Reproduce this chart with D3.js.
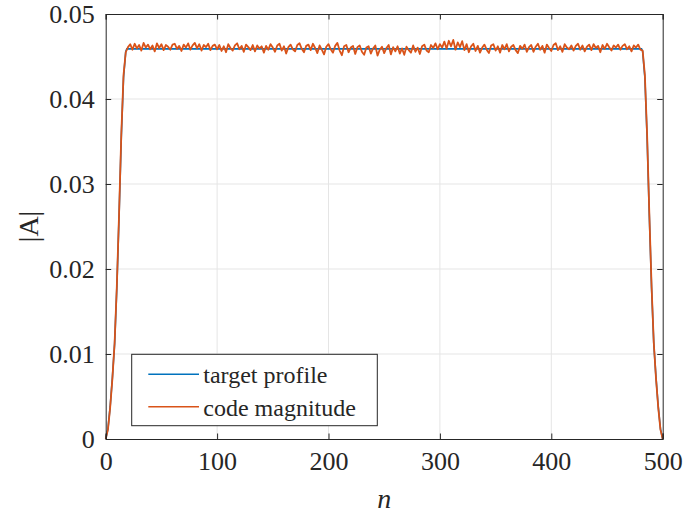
<!DOCTYPE html>
<html>
<head>
<meta charset="utf-8">
<script src="https://cdn.jsdelivr.net/npm/d3@7"></script>
<style>
  body { margin: 0; background: #fff; }
  text { font-family: "Liberation Serif", "Times New Roman", serif; fill: #262626; }
  .grid line { stroke: #e5e5e5; stroke-width: 1; }
</style>
</head>
<body>
<div id="chart"></div>
<script>
// target profile: trapezoid with smooth ramps (knots)
var targetN   = [0, 2, 4, 6, 8, 10, 12, 14, 16, 18, 19, 481, 482, 484, 486, 488, 490, 492, 494, 496, 498, 500];
var targetMag = [0, .0012, .0038, .0072, .0112, .0178, .0262, .0355, .0425, .0456, .0459,
                 .0459, .0456, .0425, .0355, .0262, .0178, .0112, .0072, .0038, .0012, 0];

// code magnitude, sampled every 2nd n (n = 0, 2, 4, ... 500)
var codeRise = [0, .0011, .0037, .0071, .0113, .0180, .0265, .0358, .0428, .0455];
var codePlateau = [
  .0461, .04645, .0458, .0465, .04595, .04635, .0457, .0466, .04605, .0464, .04585, .0463, .0456, .04655, .046, .04645, .04575, .04635, .04615, .0458, .0464,
  .0465, .0459, .04625, .04565, .0464, .04605, .04655, .0458, .0463, .0466, .04595, .04645, .0457, .04635, .0461, .0465, .04575, .04625, .0464, .04585,
  .04635, .04565, .0462, .0455, .04645, .046, .0457, .0463, .04655, .04585, .04625, .04555, .0464, .0461, .04575, .04635, .0456, .0463, .04595, .0462,
  .04545, .04625, .0458, .04645, .04605, .04555, .0463, .0465, .0457, .0462, .04535, .0461, .0464, .04585, .0456, .04635, .04655, .0459, .0455, .04625,
  .0464, .04575, .0465, .046, .0454, .0463, .0458, .04525, .04615, .04645, .04585, .04545, .04625, .0466, .0457, .04515, .0462, .04635, .0455, .04605,
  .04625, .0453, .0461, .0463, .04555, .0452, .04605, .0462, .04535, .04595, .0463, .0451, .0458, .04615, .0454, .046, .04635, .04525, .0461, .0456,
  .0462, .04535, .04595, .0452, .04615, .04575, .04545, .0463, .04555, .04605, .0453, .0462, .0464, .0457, .0455, .04635, .046, .04655, .04585, .04645,
  .04605, .04675, .0459, .04685, .0462, .04695, .0458, .04665, .0461, .0468, .04575, .04645, .0455, .0462, .0465, .04565, .04625, .04545, .04605, .0464,
  .0458, .0454, .0463, .04645, .0457, .0462, .04545, .04635, .04585, .04645, .0456, .04615, .04635, .04575, .0454, .04625, .0459, .0464, .04555, .0461,
  .04635, .04555, .04615, .0465, .0458, .04625, .04545, .0464, .046, .04565, .04635, .04655, .04575, .0462, .04555, .04645, .04605, .04585, .0463, .0457,
  .04625, .0465, .0458, .0463, .0456, .04615, .0464, .04575, .04645, .046, .04625, .0455, .04635, .0459, .0465, .0461, .0457, .0463, .04605, .0464,
  .0458, .04625, .04645, .04585, .0462, .0456, .0463, .04605, .0464, .0458
];
var codeFall = [.0457, .0428, .0358, .0265, .0180, .0113, .0071, .0037, .0011, 0];

var xTicks = [0, 100, 200, 300, 400, 500];
var yTicks = [0, 0.01, 0.02, 0.03, 0.04, 0.05];
var yTickLabels = ["0", "0.01", "0.02", "0.03", "0.04", "0.05"];
var legendLabels = ["target profile", "code magnitude"];

function init(){

    var w = 684;
    var h = 515;
    var left = 105.7, right = 662.7, top = 14, bottom = 439;
    var tickLen = 5.5;
    var axisColor = "#262626";
    var colors = ["#0072BD", "#D95319"];

    var codeMag = codeRise.concat(codePlateau, codeFall);
    var codeData = codeMag.map(function(v, i){ return {n: i * 2, v: v}; });
    var targetData = targetN.map(function(n, i){ return {n: n, v: targetMag[i]}; });

    var xScale = d3.scaleLinear().domain([0, 500]).range([left, right]);
    var yScale = d3.scaleLinear().domain([0, 0.05]).range([bottom, top]);

    var svg = d3.select("#chart")
            .append("svg")
            .attr("width", w)
            .attr("height", h);

    // grid
    var grid = svg.append("g").attr("class", "grid");
    grid.selectAll(".gx")
        .data(xTicks.slice(1, -1))
        .enter().append("line")
        .attr("x1", function(d){ return xScale(d); })
        .attr("x2", function(d){ return xScale(d); })
        .attr("y1", top).attr("y2", bottom);
    grid.selectAll(".gy")
        .data(yTicks.slice(1, -1))
        .enter().append("line")
        .attr("y1", function(d){ return yScale(d); })
        .attr("y2", function(d){ return yScale(d); })
        .attr("x1", left).attr("x2", right);

    var line = d3.line()
            .x(function(d){ return xScale(d.n); })
            .y(function(d){ return yScale(d.v); });

    svg.append("path")
        .datum(targetData)
        .attr("fill", "none")
        .attr("stroke", colors[0])
        .attr("stroke-width", 1.6)
        .attr("d", line);

    svg.append("path")
        .datum(codeData)
        .attr("fill", "none")
        .attr("stroke", colors[1])
        .attr("stroke-width", 1.8)
        .attr("stroke-linejoin", "round")
        .attr("d", line);

    // axes (ticks inward, on all four sides)
    var xAxis = d3.axisBottom(xScale).tickValues(xTicks).tickSize(-tickLen).tickPadding(13)
            .tickFormat(d3.format("d"));
    var yAxis = d3.axisLeft(yScale).tickValues(yTicks).tickSize(-tickLen).tickPadding(11)
            .tickFormat(function(d, i){ return yTickLabels[i]; });
    var xTop = d3.axisTop(xScale).tickValues(xTicks).tickSize(-tickLen).tickFormat("");
    var yRight = d3.axisRight(yScale).tickValues(yTicks).tickSize(-tickLen).tickFormat("");

    var gx = svg.append("g").attr("transform", "translate(0," + bottom + ")").call(xAxis);
    var gy = svg.append("g").attr("transform", "translate(" + left + ",0)").call(yAxis);
    var gt = svg.append("g").attr("transform", "translate(0," + top + ")").call(xTop);
    var gr = svg.append("g").attr("transform", "translate(" + right + ",0)").call(yRight);

    [gx, gy, gt, gr].forEach(function(g){
        g.select(".domain").attr("stroke", axisColor).attr("stroke-width", 1);
        g.selectAll(".tick line").attr("stroke", axisColor);
        g.selectAll(".tick text")
            .attr("font-family", "Liberation Serif")
            .attr("font-size", 26)
            .attr("fill", axisColor);
    });
    gx.selectAll(".tick text").attr("dy", "0.71em");

    // axis labels
    svg.append("text")
        .attr("x", (left + right) / 2)
        .attr("y", 508)
        .attr("text-anchor", "middle")
        .attr("font-size", 28)
        .attr("font-style", "italic")
        .text("n");

    svg.append("text")
        .attr("transform", "translate(38," + ((top + bottom) / 2) + ") rotate(-90)")
        .attr("text-anchor", "middle")
        .attr("font-size", 28)
        .text("|A|");

    // legend
    var lg = svg.append("g");
    lg.append("rect")
        .attr("x", 131.7).attr("y", 354.3)
        .attr("width", 245.6).attr("height", 71.4)
        .attr("fill", "#fff")
        .attr("stroke", axisColor)
        .attr("stroke-width", 1);

    legendLabels.forEach(function(label, i){
        var yy = 374.3 + i * 32.4;
        lg.append("line")
            .attr("x1", 148.3).attr("x2", 199)
            .attr("y1", yy).attr("y2", yy)
            .attr("stroke", colors[i])
            .attr("stroke-width", 1.6);
        lg.append("text")
            .attr("x", 203.3)
            .attr("y", yy + 9)
            .attr("font-size", 24)
            .text(label);
    });
}

window.onload = init;
</script>
</body>
</html>
